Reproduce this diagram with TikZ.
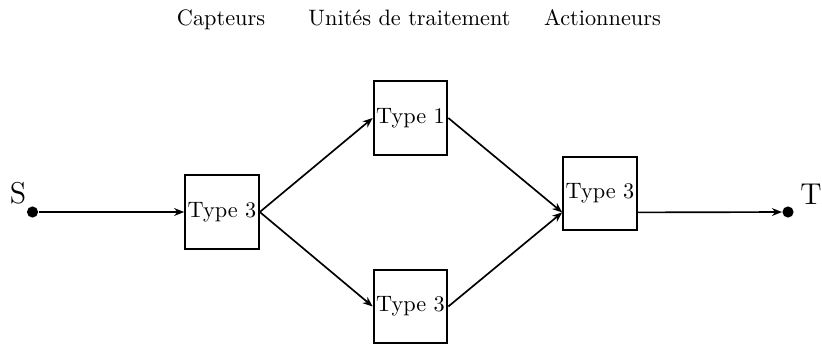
\documentclass[tikz,border=0pt]{standalone}
\usepackage{fontspec}
\usetikzlibrary{arrows.meta,calc}
\begin{document}
\begin{tikzpicture}[x=0.4484pt,y=-0.4484pt,
  box/.style={draw,line width=0.9pt,minimum width=33pt,minimum height=33pt,inner sep=1pt},
  link/.style={line width=0.75pt,-{Stealth[length=4.5pt,width=3.5pt]}},
  dot/.style={circle,fill,inner sep=0pt,minimum size=5pt},
  head/.style={anchor=base},
  endlabel/.style={font=\fontsize{13.5}{15}\selectfont}]
\useasboundingbox (0,0) rectangle (822,345);
\node[head] (h1) at (221,25) {Capteurs};
\node[head] (h2) at (409.5,25) {Unités de traitement};
\node[head] (h3) at (602.5,25) {Actionneurs};
\node[box] (b1) at (222,212) {Type 3};
\node[box] (b2) at (410.5,118) {Type 1};
\node[box] (b3) at (410.5,306.5) {Type 3};
\node[box] (b4) at (600,193.5) {Type 3};
\node[dot] (s) at (32.5,212) {};
\node[dot] (t) at (788,212) {};
\node[endlabel] (sl) at (18,193) {S};
\node[endlabel] (tl) at (811,194) {T};
\coordinate (b4in) at ($(b4.south west)!0.25!(b4.north west)$);
\coordinate (b4out) at ($(b4.south east)!0.25!(b4.north east)$);
\draw[link] (s) -- (b1.west);
\draw[link] (b1.east) -- (b2.west);
\draw[link] (b1.east) -- (b3.west);
\draw[link] (b2.east) -- (b4in);
\draw[link] (b3.east) -- (b4in);
\draw[link] (b4out) -- (t);
\end{tikzpicture}
\end{document}
